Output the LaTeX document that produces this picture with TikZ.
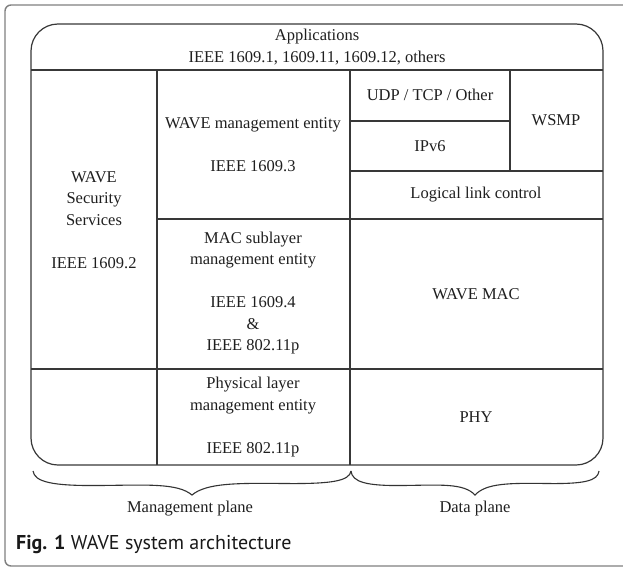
\documentclass[tikz,border=0pt]{standalone}
\usepackage{fontspec}
\setmainfont{Liberation Serif}
\newfontfamily\capfont{PT Sans}
\newcommand\wbrace[4]{%
  \pgfmathsetmacro\wbm{(#1+#2)/2}%
  \pgfmathsetmacro\wbL{\wbm-#1}%
  \draw[bracestyle] (#1,#3)
    .. controls ({#1+0.01*\wbL},{#3+11}) and ({#1+0.12*\wbL},{#3+15}) .. ({#1+0.42*\wbL},{#3+14.5})
    .. controls ({#1+0.72*\wbL},{#3+14}) and ({\wbm-0.09*\wbL},{#3+12}) .. (\wbm,#4)
    .. controls ({\wbm+0.09*\wbL},{#3+12}) and ({#2-0.72*\wbL},{#3+12}) .. ({#2-0.42*\wbL},{#3+12.5})
    .. controls ({#2-0.12*\wbL},{#3+13}) and ({#2-0.01*\wbL},{#3+10}) .. (#2,#3);
}
\begin{document}
\begin{tikzpicture}[x=1pt,y=-1pt,
  gridline/.style={draw=black!78, line width=1.2pt},
  outerframe/.style={draw=black!50, line width=1.4pt, rounded corners=6pt},
  txt/.style={align=center, font=\fontsize{16.5}{21.5}\selectfont, inner sep=0pt, text=black!88},
  bracestyle/.style={draw=black!80, line width=1.1pt}]
\clip (0,0) rectangle (623,570);
\fill[white] (0,0) rectangle (623,570);
% outer caption frame
\draw[outerframe] (5,5) rectangle (650,566);
% diagram outline
\draw[gridline, rounded corners=27pt] (31,24) rectangle (603,465);
\draw[gridline] (31,70) -- (603,70);
\draw[gridline] (157,70) -- (157,465);
\draw[gridline] (350,70) -- (350,465);
\draw[gridline] (510,70) -- (510,171);
\draw[gridline] (350,121) -- (510,121);
\draw[gridline] (350,171) -- (603,171);
\draw[gridline] (157,219) -- (603,219);
\draw[gridline] (31,369) -- (603,369);
% texts
\node[txt] (apps) at (317,47) {Applications\\IEEE 1609.1, 1609.11, 1609.12, others};
\node[txt] (sec) at (94,220) {WAVE\\Security\\Services\\[21.5pt]IEEE 1609.2};
\node[txt] (wme) at (253,145) {WAVE management entity\\[21.5pt]IEEE 1609.3};
\node[txt] (mlme) at (253,293) {MAC sublayer\\management entity\\[21.5pt]IEEE 1609.4\\\&\\IEEE 802.11p};
\node[txt] (plme) at (253,417) {Physical layer\\management entity\\[21.5pt]IEEE 802.11p};
\node[txt] (udp) at (430,95) {UDP / TCP / Other};
\node[txt] (ipv6) at (430,146) {IPv6};
\node[txt] (wsmp) at (556,120) {WSMP};
\node[txt] (llc) at (476,195) {Logical link control};
\node[txt] (mac) at (476,294) {WAVE MAC};
\node[txt] (phy) at (476,417) {PHY};
% braces
\wbrace{33}{351}{471}{495}
\wbrace{351}{599}{471}{495}
\node[txt] (mplane) at (190,509) {Management plane};
\node[txt] (dplane) at (475,509) {Data plane};
% caption
\node[anchor=west, inner sep=0pt, font=\capfont\fontsize{20}{23}\selectfont, text=black!90] (cap) at (16,544) {\textbf{Fig. 1} WAVE system architecture};
\end{tikzpicture}
\end{document}
